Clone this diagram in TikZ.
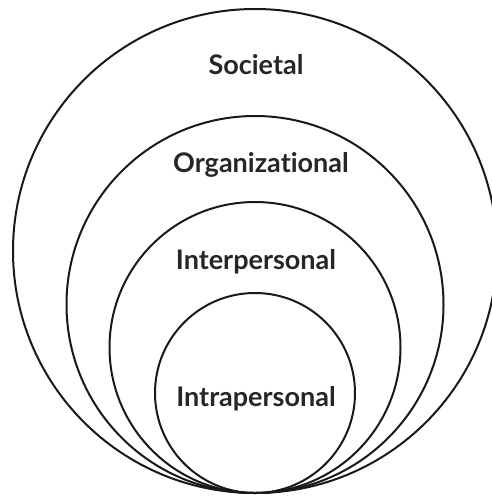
\documentclass[tikz,border=0pt]{standalone}
\usepackage{fontspec}
\setmainfont{Lato}[RawFeature={-liga}]
\begin{document}
\begin{tikzpicture}[x=1pt,y=-1pt,
  ring/.style={circle,draw=black!90,line width=2pt,inner sep=0pt,outer sep=0pt},
  lbl/.style={anchor=base,font=\fontsize{27}{30}\selectfont\bfseries,text=black!85}]
\useasboundingbox (0,0) rectangle (492,498);
\clip (0,0) rectangle (492,498);
\node[ring,minimum size=484pt] (soc) at (255,251) {};
\node[ring,minimum size=377pt] (org) at (255,304.5) {};
\node[ring,minimum size=291pt] (inter) at (255,347.5) {};
\node[ring,minimum size=200pt] (intra) at (255,393) {};
\node[lbl] (tsoc) at (256,74) {Societal};
\node[lbl] (torg) at (261,172) {Organizational};
\node[lbl] (tinter) at (256,269) {Interpersonal};
\node[lbl] (tintra) at (256,406) {Intrapersonal};
\end{tikzpicture}
\end{document}
